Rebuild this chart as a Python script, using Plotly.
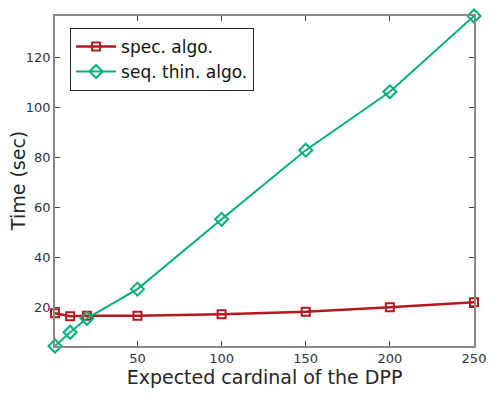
import plotly.graph_objects as go

x_vals = [1, 10, 20, 50, 100, 150, 200, 250]
spec_algo = [17.6, 16.4, 16.6, 16.6, 17.2, 18.2, 20.0, 22.0]
seq_thin_algo = [4.5, 10.0, 15.6, 27.3, 55.3, 83.0, 106.4, 136.8]
x_ticks = [50, 100, 150, 200, 250]
y_ticks = [20, 40, 60, 80, 100, 120]

red = "#b5191f"
green = "#00b07a"

fig = go.Figure()
fig.add_trace(go.Scatter(
    x=x_vals, y=spec_algo, mode="lines+markers", name="spec. algo.",
    line=dict(color=red, width=2.5),
    marker=dict(symbol="square-open", size=8, color=red, line=dict(width=2, color=red)),
    cliponaxis=False,
))
fig.add_trace(go.Scatter(
    x=x_vals, y=seq_thin_algo, mode="lines+markers", name="seq. thin. algo.",
    line=dict(color=green, width=2),
    marker=dict(symbol="diamond-open", size=10, color=green, line=dict(width=2, color=green)),
    cliponaxis=False,
))

axis_common = dict(
    showgrid=False, zeroline=False, ticks="inside", ticklen=5, tickwidth=1,
    tickcolor="#404040", showline=True, linecolor="#888888", linewidth=1.5,
    mirror="allticks", automargin=False,
    tickfont=dict(family="DejaVu Sans", size=13, color="#333333"),
)

fig.update_layout(
    width=495, height=400,
    margin=dict(l=55, r=21, t=16, b=54),
    paper_bgcolor="white", plot_bgcolor="white",
    font=dict(family="DejaVu Sans", color="#262626"),
    xaxis=dict(range=[1, 250], tickvals=x_ticks,
               title=dict(text="Expected cardinal of the DPP", font=dict(size=19, color="#262626"), standoff=4),
               **axis_common),
    yaxis=dict(range=[4.5, 136.8], tickvals=y_ticks, **axis_common),
    legend=dict(x=0.036, y=0.964, xanchor="left", yanchor="top",
                bgcolor="white", bordercolor="#262626", borderwidth=1,
                font=dict(size=17, color="#111111"), tracegroupgap=0, itemwidth=40),
    showlegend=True,
    annotations=[dict(text="Time (sec)", xref="paper", yref="paper",
                      x=-0.088, y=0.5, xanchor="center", yanchor="middle",
                      textangle=-90, showarrow=False,
                      font=dict(size=19, color="#262626", family="DejaVu Sans"))],
)

fig.write_html("out.html")
